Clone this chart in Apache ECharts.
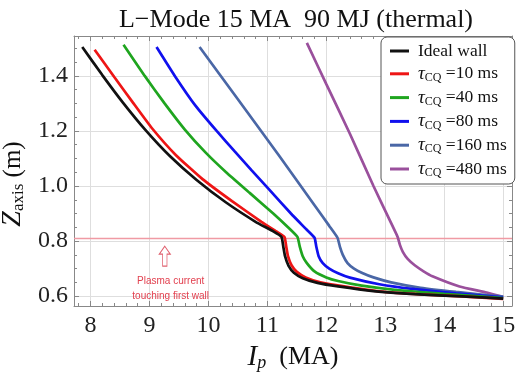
<!DOCTYPE html>
<html>
  <head>
    <meta charset="utf-8" />
    <title>L-Mode 15 MA 90 MJ</title>
    <script src="https://cdnjs.cloudflare.com/ajax/libs/echarts/6.0.0/echarts.min.js"></script>
  </head>
  <body>
    <style>
      html, body { margin: 0; padding: 0; background: #fff; }
      #main { width: 516px; height: 373px; }
    </style>
    <div id="main"></div>
    <script type="text/javascript">
      // values: Ip (MA) and Z_axis (m) for each curve
      var idealIp = [7.86, 8.2, 8.55, 8.93, 9.35, 9.8, 10.3, 10.8, 11.1, 11.24, 11.27, 11.3, 11.36, 11.45, 11.6, 11.85, 12.2, 12.8, 13.5, 14.3, 15.0];
      var idealZ  = [1.505, 1.403, 1.303, 1.204, 1.108, 1.022, 0.94, 0.87, 0.835, 0.815, 0.78, 0.745, 0.71, 0.685, 0.665, 0.648, 0.635, 0.618, 0.607, 0.599, 0.591];

      var cq10Ip = [8.07, 8.4, 8.72, 9.05, 9.45, 9.9, 10.4, 10.9, 11.15, 11.29, 11.32, 11.35, 11.41, 11.5, 11.65, 11.9, 12.3, 12.9, 13.6, 14.3, 15.0];
      var cq10Z  = [1.495, 1.397, 1.303, 1.208, 1.112, 1.025, 0.945, 0.87, 0.835, 0.815, 0.78, 0.745, 0.712, 0.688, 0.668, 0.65, 0.635, 0.617, 0.606, 0.599, 0.590];

      var cq40Ip = [8.56, 8.92, 9.25, 9.6, 9.95, 10.3, 10.7, 11.1, 11.35, 11.51, 11.55, 11.6, 11.67, 11.8, 12.0, 12.2, 12.6, 13.2, 14.0, 15.0];
      var cq40Z  = [1.513, 1.40, 1.302, 1.205, 1.122, 1.05, 0.975, 0.90, 0.85, 0.815, 0.78, 0.745, 0.72, 0.69, 0.668, 0.655, 0.638, 0.622, 0.608, 0.593];

      var cq80Ip = [9.12, 9.43, 9.78, 10.14, 10.45, 10.73, 11.04, 11.4, 11.65, 11.8, 11.83, 11.87, 11.94, 12.05, 12.2, 12.4, 12.9, 13.5, 14.2, 15.0];
      var cq80Z  = [1.505, 1.40, 1.292, 1.20, 1.125, 1.058, 0.985, 0.90, 0.845, 0.812, 0.78, 0.745, 0.72, 0.70, 0.683, 0.667, 0.643, 0.625, 0.610, 0.595];

      var cq160Ip = [9.85, 10.5, 11.2, 11.8, 12.05, 12.19, 12.23, 12.28, 12.36, 12.47, 12.6, 12.8, 13.1, 13.6, 14.2, 15.0];
      var cq160Z  = [1.505, 1.315, 1.11, 0.93, 0.855, 0.812, 0.78, 0.75, 0.72, 0.70, 0.685, 0.668, 0.65, 0.630, 0.615, 0.598];

      var cq480Ip = [11.67, 12.0, 12.4, 12.8, 13.1, 13.21, 13.25, 13.3, 13.38, 13.5, 13.65, 13.8, 14.26, 14.72, 15.0];
      var cq480Z  = [1.52, 1.37, 1.19, 1.0, 0.865, 0.815, 0.785, 0.76, 0.735, 0.712, 0.69, 0.672, 0.635, 0.613, 0.597];

      var seriesNames = ['Ideal wall', 'τCQ =10 ms', 'τCQ =40 ms', 'τCQ =80 ms', 'τCQ =160 ms', 'τCQ =480 ms'];
      var seriesColors = ['#111111', '#ee1515', '#1fa51f', '#1010ee', '#4a67a6', '#9a509c'];
      var seriesIp = [idealIp, cq10Ip, cq40Ip, cq80Ip, cq160Ip, cq480Ip];
      var seriesZ = [idealZ, cq10Z, cq40Z, cq80Z, cq160Z, cq480Z];

      var wallZ = 0.813;          // plasma current touching first wall
      var arrowAt = [9.26, 0.745];
      var noteAt = [9.36, 0.628];

      var serif = 'Liberation Serif';

      function pairs(xs, ys) {
        return xs.map(function (x, i) { return [x, ys[i]]; });
      }

      var chartDom = document.getElementById('main');
      var myChart = echarts.init(chartDom, null, { renderer: 'canvas' });

      var series = seriesNames.map(function (name, i) {
        return {
          name: name,
          type: 'line',
          data: pairs(seriesIp[i], seriesZ[i]),
          symbol: 'none',
          smooth: 0.15,
          lineStyle: { color: seriesColors[i], width: 2.7 },
          itemStyle: { color: seriesColors[i] },
          z: 10 - i
        };
      });

      var wallLine = { color: '#f09aa4', width: 1.3, type: 'solid', opacity: 1 };

      series.push({
        name: 'note',
        type: 'line',
        data: [],
        silent: true,
        color: '#f09aa4',
        markLine: {
          silent: true,
          symbol: 'none',
          label: { show: false },
          lineStyle: wallLine,
          emphasis: { disabled: true },
          data: [{ yAxis: wallZ, lineStyle: wallLine }]
        },
        markPoint: {
          silent: true,
          data: [
            {
              coord: arrowAt,
              symbol: 'path://M5,0 L10,8 L7,8 L7,20 L3,20 L3,8 L0,8 Z',
              symbolSize: [11, 20],
              itemStyle: { color: '#ffffff', borderColor: '#e0606e', borderWidth: 1 },
              label: { show: false }
            },
            {
              coord: noteAt,
              symbol: 'circle',
              symbolSize: 0,
              label: {
                show: true,
                position: 'inside',
                formatter: 'Plasma current\ntouching first wall',
                color: '#e2404f',
                fontFamily: 'Liberation Sans',
                fontSize: 10,
                lineHeight: 15,
                align: 'center'
              }
            }
          ]
        }
      });

      var tickLine = { color: '#888', width: 1 };

      var option = {
        animation: false,
        backgroundColor: '#fff',
        title: {
          text: 'L\u2212Mode 15 MA  90 MJ (thermal)',
          left: 291,
          textAlign: 'center',
          top: 2,
          textStyle: { fontFamily: serif, fontSize: 26, fontWeight: 'normal', color: '#111' }
        },
        grid: { left: 74, right: 4, top: 36, bottom: 67, outerBoundsMode: 'none', containLabel: false },
        legend: {
          data: seriesNames,
          orient: 'vertical',
          left: 381,
          top: 37,
          padding: [5, 8, 5, 9],
          icon: 'rect',
          itemWidth: 19,
          itemHeight: 3,
          itemGap: 4.3,
          backgroundColor: '#fff',
          borderColor: '#555',
          borderWidth: 1,
          borderRadius: 6,
          formatter: function (name) {
            if (name.charAt(0) === 'τ') {
              return '{g|}{t|τ}{s|CQ}{n|' + name.slice(3) + '}';
            }
            return '{g|}{n|' + name + '}';
          },
          textStyle: {
            fontFamily: serif,
            fontSize: 17,
            color: '#111',
            rich: {
              g: { width: 4, lineHeight: 20 },
              t: { fontFamily: serif, fontSize: 19, fontStyle: 'italic', lineHeight: 20, color: '#111' },
              s: { fontFamily: serif, fontSize: 12, lineHeight: 20, verticalAlign: 'bottom', color: '#111' },
              n: { fontFamily: serif, fontSize: 17.5, lineHeight: 20, color: '#111' }
            }
          }
        },
        xAxis: [
          {
            type: 'value',
            min: 7.72,
            max: 15.15,
            splitNumber: 7,
            name: '{i|I}{s|p}{u|  (MA)}',
            nameLocation: 'middle',
            nameGap: 36,
            nameTextStyle: {
              rich: {
                i: { fontFamily: serif, fontSize: 29, fontStyle: 'italic', color: '#111', lineHeight: 30 },
                s: { fontFamily: serif, fontSize: 18, fontStyle: 'italic', color: '#111', verticalAlign: 'bottom', lineHeight: 30 },
                u: { fontFamily: serif, fontSize: 26, color: '#111', lineHeight: 30 }
              }
            },
            axisLine: { show: true, lineStyle: { color: '#888' } },
            axisTick: { show: true, inside: true, length: 5, lineStyle: tickLine },
            minorTick: { show: true, splitNumber: 5, length: 3, lineStyle: tickLine },
            axisLabel: {
              showMinLabel: false,
              showMaxLabel: false,
              margin: 8,
              fontFamily: serif,
              fontSize: 24,
              color: '#222'
            },
            splitLine: { show: true, lineStyle: { color: '#dedede', width: 1 } }
          },
          {
            type: 'value',
            position: 'top',
            min: 7.72,
            max: 15.15,
            splitNumber: 7,
            axisLine: { show: true, lineStyle: { color: '#888' } },
            axisTick: { show: true, inside: true, length: 5, lineStyle: tickLine },
            minorTick: { show: true, splitNumber: 5, length: 3, lineStyle: tickLine },
            axisLabel: { show: false },
            splitLine: { show: false }
          }
        ],
        yAxis: [
          {
            type: 'value',
            min: 0.564,
            max: 1.545,
            splitNumber: 5,
            name: '{z|Z}{s|axis}{u| (m)}',
            nameLocation: 'middle',
            nameRotate: 90,
            nameGap: 42,
            nameTextStyle: {
              padding: [0, 26, 0, 0],
              rich: {
                z: { fontFamily: serif, fontSize: 28, fontStyle: 'italic', color: '#111', lineHeight: 28 },
                s: { fontFamily: serif, fontSize: 17, color: '#111', verticalAlign: 'bottom', lineHeight: 28 },
                u: { fontFamily: serif, fontSize: 25, color: '#111', lineHeight: 28 }
              }
            },
            axisLine: { show: true, lineStyle: { color: '#888' } },
            axisTick: { show: true, inside: true, length: 5, lineStyle: tickLine },
            minorTick: { show: true, splitNumber: 4, length: 3, lineStyle: tickLine },
            axisLabel: {
              showMinLabel: false,
              showMaxLabel: false,
              margin: 6,
              fontFamily: serif,
              fontSize: 24,
              color: '#222',
              formatter: function (v) { return v.toFixed(1); }
            },
            splitLine: { show: true, lineStyle: { color: '#dedede', width: 1 } }
          },
          {
            type: 'value',
            position: 'right',
            min: 0.564,
            max: 1.545,
            splitNumber: 5,
            axisLine: { show: true, lineStyle: { color: '#888' } },
            axisTick: { show: true, inside: true, length: 5, lineStyle: tickLine },
            minorTick: { show: true, splitNumber: 4, length: 3, lineStyle: tickLine },
            axisLabel: { show: false },
            splitLine: { show: false }
          }
        ],
        series: series
      };

      myChart.setOption(option);
    </script>
  </body>
</html>
